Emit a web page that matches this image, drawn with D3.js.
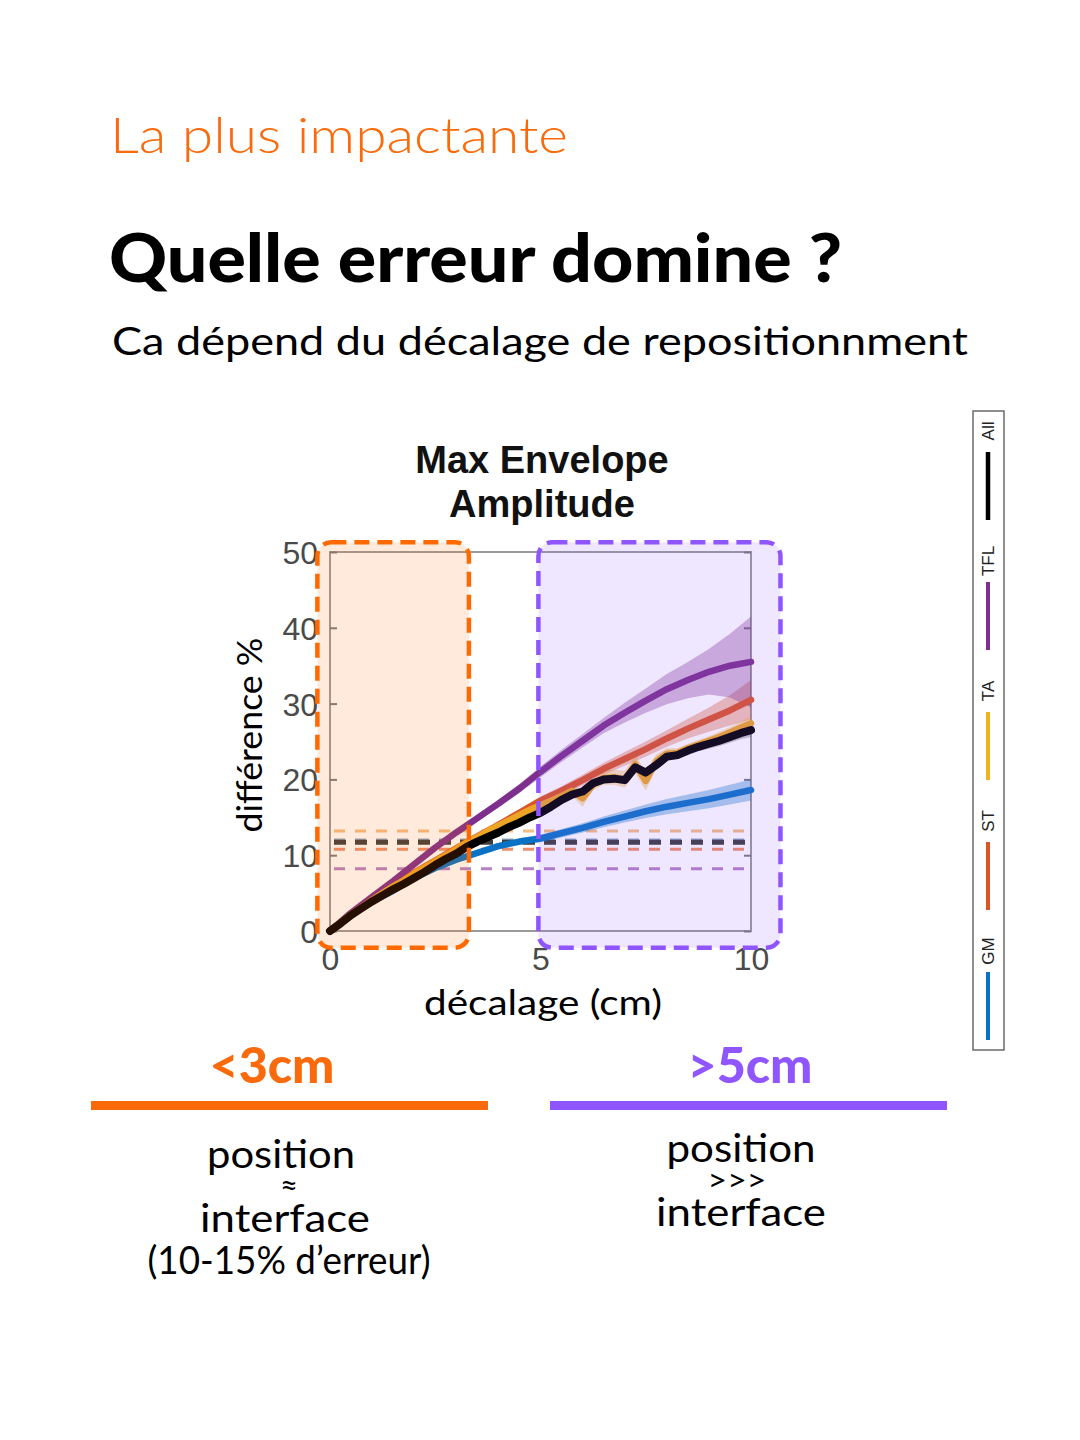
<!DOCTYPE html>
<html>
<head>
<meta charset="utf-8">
<script src="https://cdn.jsdelivr.net/npm/d3@7"></script>
<style>
  html, body { margin: 0; padding: 0; background: #fff; }
  svg { display: block; }
</style>
</head>
<body>
<div id="graphic"></div>
<script>
const width = 1080;
const height = 1440;

// x values (cm)
const decalage = [0,0.5,1,1.5,2,2.5,3,3.5,4,4.5,5,5.5,6,6.5,7,7.5,8,8.5,9,9.5,10];
const decalageFin = [0,0.25,0.5,0.75,1,1.25,1.5,1.75,2,2.25,2.5,2.75,3,3.25,3.5,3.75,4,4.25,4.5,4.75,
  5,5.25,5.5,5.75,6,6.25,6.5,6.75,7,7.25,7.5,7.75,8,8.25,8.5,8.75,9,9.25,9.5,9.75,10];

// mean difference % per muscle
const gmValues  = [0,2.1,3.9,5.3,7.0,8.3,9.4,10.3,11.2,11.8,12.2,12.9,13.6,14.4,15.1,15.8,16.4,16.9,17.4,18.0,18.6];
const stValues  = [0,2.2,4.2,6.0,7.7,9.3,10.9,12.5,14.0,15.6,17.2,18.5,19.9,21.4,22.7,24.0,25.4,26.7,27.9,29.1,30.5];
const tflValues = [0,2.4,4.5,6.6,8.8,11.0,13.0,14.9,16.8,18.8,21.0,23.1,25.1,27.1,28.8,30.4,31.9,33.1,34.2,35.0,35.5];
const taValues  = [0,1.1,2.2,3.1,4.1,5.0,5.9,6.7,7.6,8.4,9.2,10.0,10.8,11.7,12.4,13.2,13.9,14.6,15.3,16.0,
  16.6,17.2,17.8,18.5,17.5,19.3,20.2,20.3,20.0,22.0,19.8,22.4,23.4,23.5,24.1,24.6,25.1,25.6,26.2,26.8,27.4];
const allValues = [0,1.0,2.1,3.0,3.9,4.7,5.5,6.2,7.0,7.8,8.7,9.5,10.2,11.1,11.8,12.4,13.0,13.7,14.3,15.0,
  15.6,16.4,17.3,18.0,18.4,19.5,20.0,20.1,19.9,21.6,20.9,21.9,23.0,23.2,23.8,24.3,24.7,25.1,25.6,26.1,26.5];

// half-width of the shaded bands
const gmSpread  = [0,0.1,0.15,0.2,0.25,0.3,0.3,0.35,0.4,0.45,0.5,0.55,0.6,0.7,0.8,0.9,1.0,1.1,1.2,1.3,1.4];
const stSpread  = [0,0.1,0.15,0.2,0.25,0.3,0.35,0.4,0.45,0.5,0.55,0.6,0.7,0.8,0.9,1.0,1.1,1.3,1.6,2.0,2.6];
const tflSpread = [0,0.1,0.2,0.25,0.3,0.35,0.4,0.45,0.5,0.6,0.7,0.8,0.9,1.0,1.3,1.6,2.0,2.4,3.0,4.2,6.0];
const taSpread  = [0,0.1,0.1,0.15,0.15,0.2,0.2,0.2,0.2,0.25,0.25,0.25,0.3,0.3,0.3,0.3,0.35,0.35,0.4,0.4,
  0.45,0.5,0.6,0.7,1.1,0.7,0.9,1.0,1.1,1.2,1.3,0.9,0.7,0.6,0.6,0.6,0.6,0.7,0.7,0.8,0.9];
const allSpread = [0,0.05,0.05,0.1,0.1,0.1,0.1,0.15,0.15,0.15,0.15,0.2,0.2,0.2,0.2,0.2,0.25,0.25,0.25,0.3,
  0.3,0.3,0.35,0.35,0.4,0.4,0.4,0.45,0.45,0.5,0.5,0.5,0.55,0.55,0.6,0.6,0.65,0.7,0.75,0.8,0.9];

// interface error (dashed references)
const interfaceLevels = [
  {name: 'TFL', value: 8.2},
  {name: 'ST',  value: 10.8},
  {name: 'TA',  value: 13.2},
  {name: 'GM',  value: 12.0},
  {name: 'All', value: 11.7}
];

const muscles = ['GM', 'ST', 'TA', 'TFL', 'All'];
const colors = {GM: '#0A72C4', ST: '#DA5428', TA: '#EDA526', TFL: '#7E2F8E', All: '#000000'};
const dashColors = {GM: '#8FA8C6', ST: '#EE8E6A', TA: '#F4BE84', TFL: '#B482C4', All: '#3d3d3d'};

const yTicks = [0, 10, 20, 30, 40, 50];
const xTicks = [0, 5, 10];

// highlighted zones (cm)
const zones = [
  {from: -0.3, to: 3.3, color: '#FF6A00'},
  {from: 4.95, to: 10.7, color: '#8F55FF'}
];

const series = [
  {name: 'GM',  x: decalage,    y: gmValues,  s: gmSpread},
  {name: 'ST',  x: decalage,    y: stValues,  s: stSpread},
  {name: 'TFL', x: decalage,    y: tflValues, s: tflSpread},
  {name: 'TA',  x: decalageFin, y: taValues,  s: taSpread},
  {name: 'All', x: decalageFin, y: allValues, s: allSpread}
];

const svg = d3.select('#graphic').append('svg')
  .attr('width', width)
  .attr('height', height);

svg.append('rect').attr('width', width).attr('height', height).attr('fill', '#fff');

// header
svg.append('text')
  .attr('x', 110).attr('y', 153)
  .attr('font-family', 'Lato').attr('font-weight', 300)
  .attr('font-size', 50).attr('fill', '#FA6A0A')
  .attr('textLength', 458).attr('lengthAdjust', 'spacingAndGlyphs')
  .text('La plus impactante');

svg.append('text')
  .attr('x', 109).attr('y', 282)
  .attr('font-family', 'Lato').attr('font-weight', 900)
  .attr('font-size', 66).attr('fill', '#000')
  .attr('textLength', 733).attr('lengthAdjust', 'spacingAndGlyphs')
  .text('Quelle erreur domine ?');

svg.append('text')
  .attr('x', 112).attr('y', 355)
  .attr('font-family', 'Lato').attr('font-weight', 400)
  .attr('font-size', 38).attr('fill', '#000')
  .attr('textLength', 856).attr('lengthAdjust', 'spacingAndGlyphs')
  .text('Ca dépend du décalage de repositionnment');

// scales
const scaleX = d3.scaleLinear().domain([0, 10]).range([330, 751]);
const scaleY = d3.scaleLinear().domain([0, 50]).range([931, 552]);

const plot = svg.append('g');

// box frame
plot.append('rect')
  .attr('x', scaleX(0)).attr('y', scaleY(50))
  .attr('width', scaleX(10) - scaleX(0)).attr('height', scaleY(0) - scaleY(50))
  .attr('fill', 'none').attr('stroke', '#9a9a9a').attr('stroke-width', 2);

// axes (ticks inward, MATLAB-like)
const axisLeft = d3.axisLeft(scaleY).tickValues(yTicks).tickSize(-7).tickPadding(12);
const gy = plot.append('g').attr('transform', `translate(${scaleX(0)},0)`).call(axisLeft);
const axisRight = d3.axisRight(scaleY).tickValues(yTicks).tickSize(-7).tickFormat('');
const gyr = plot.append('g').attr('transform', `translate(${scaleX(10)},0)`).call(axisRight);
const axisBottom = d3.axisBottom(scaleX).tickValues(xTicks).tickSize(0).tickPadding(16);
const gx = plot.append('g').attr('transform', `translate(0,${scaleY(0)})`).call(axisBottom);

[gy, gyr, gx].forEach(g => {
  g.select('.domain').remove();
  g.selectAll('line').attr('stroke', '#7a7a7a').attr('stroke-width', 2);
  g.selectAll('text')
    .attr('font-family', 'Liberation Sans, Arial, sans-serif')
    .attr('font-size', 32).attr('fill', '#4a4a4a');
});
gy.selectAll('text').attr('dy', '0.36em');
gx.selectAll('text').attr('dy', '0.72em');

// dashed interface levels
plot.selectAll('line.level')
  .data(interfaceLevels)
  .enter().append('line')
  .attr('class', 'level')
  .attr('x1', scaleX(0) + 4).attr('x2', scaleX(10) - 2)
  .attr('y1', d => scaleY(d.value)).attr('y2', d => scaleY(d.value))
  .attr('stroke', d => dashColors[d.name])
  .attr('stroke-width', d => d.name === 'All' ? 5 : 3)
  .attr('stroke-dasharray', d => d.name === 'All' ? '12,9' : '11,10');

// shaded bands
const band = d3.area()
  .x(d => scaleX(d.x))
  .y0(d => scaleY(d.y - d.s))
  .y1(d => scaleY(d.y + d.s));

const line = d3.line()
  .x(d => scaleX(d.x))
  .y(d => scaleY(d.y));

function points(s) {
  return s.x.map((x, i) => ({x: x, y: s.y[i], s: s.s[i]}));
}

plot.selectAll('path.band')
  .data(series)
  .enter().append('path')
  .attr('class', 'band')
  .attr('d', s => band(points(s)))
  .attr('fill', s => s.name === 'All' ? '#555' : colors[s.name])
  .attr('opacity', 0.35);

plot.selectAll('path.mean')
  .data(series)
  .enter().append('path')
  .attr('class', 'mean')
  .attr('d', s => line(points(s)))
  .attr('fill', 'none')
  .attr('stroke', s => colors[s.name])
  .attr('stroke-width', s => s.name === 'All' ? 8 : 6.5)
  .attr('stroke-linejoin', 'round')
  .attr('stroke-linecap', 'round');

// title of the plot
const plotTitle = ['Max Envelope', 'Amplitude'];
svg.selectAll('text.ptitle')
  .data(plotTitle)
  .enter().append('text')
  .attr('class', 'ptitle')
  .attr('x', 542)
  .attr('y', (d, i) => 473 + i * 44)
  .attr('text-anchor', 'middle')
  .attr('font-family', 'Liberation Sans, Arial, sans-serif')
  .attr('font-weight', 700).attr('font-size', 38).attr('fill', '#111')
  .text(d => d);

// axis labels
svg.append('text')
  .attr('transform', 'translate(262,735) rotate(-90)')
  .attr('text-anchor', 'middle')
  .attr('font-family', 'Lato').attr('font-size', 34).attr('fill', '#000')
  .attr('textLength', 195).attr('lengthAdjust', 'spacingAndGlyphs')
  .text('différence %');

svg.append('text')
  .attr('x', 543).attr('y', 1015)
  .attr('text-anchor', 'middle')
  .attr('font-family', 'Lato').attr('font-size', 35).attr('fill', '#000')
  .attr('textLength', 238).attr('lengthAdjust', 'spacingAndGlyphs')
  .text('décalage (cm)');

// highlighted zones, drawn over the plot
svg.selectAll('rect.zone')
  .data(zones)
  .enter().append('rect')
  .attr('class', 'zone')
  .attr('x', d => scaleX(d.from))
  .attr('y', scaleY(51.3))
  .attr('width', d => scaleX(d.to) - scaleX(d.from))
  .attr('height', scaleY(-2.2) - scaleY(51.3))
  .attr('rx', 14).attr('ry', 14)
  .attr('fill', d => d.color).attr('fill-opacity', 0.14)
  .attr('stroke', d => d.color).attr('stroke-width', 4.5)
  .attr('stroke-dasharray', '15,8');

// legend (vertical)
const legend = svg.append('g');
legend.append('rect')
  .attr('x', 973).attr('y', 411).attr('width', 31).attr('height', 639)
  .attr('fill', '#fff').attr('stroke', '#6b6b6b').attr('stroke-width', 1.5);

const legendY = d3.scalePoint().domain(muscles).range([1008, 488]);

const entry = legend.selectAll('g.entry')
  .data(muscles)
  .enter().append('g')
  .attr('class', 'entry')
  .attr('transform', d => `translate(988,${legendY(d)})`);

entry.append('line')
  .attr('x1', 0).attr('x2', 0)
  .attr('y1', 32).attr('y2', -36)
  .attr('stroke', d => d === 'TA' ? '#F2B21F' : colors[d])
  .attr('stroke-width', d => d === 'All' ? 4.5 : 4);

entry.append('text')
  .attr('transform', 'translate(6,-57) rotate(-90)')
  .attr('text-anchor', 'middle')
  .attr('font-family', 'Liberation Sans, Arial, sans-serif')
  .attr('font-size', 17).attr('fill', '#222')
  .text(d => d);

// bottom comparison
const panels = [
  {label: '<3cm', color: '#FA6A0A', labelX: 272, barFrom: 91, barTo: 488,
   lines: ['position', '≈', 'interface', '(10-15% d’erreur)'],
   xs: [281, 289, 285, 289], ys: [1168, 1196, 1232, 1274], ws: [148, 18, 170, 283]},
  {label: '>5cm', color: '#8F55FF', labelX: 750, barFrom: 550, barTo: 947,
   lines: ['position', '>>>', 'interface'],
   xs: [741, 737, 741], ys: [1162, 1191, 1226], ws: [149, 59, 170]}
];

panels.forEach(p => {
  svg.append('text')
    .attr('x', p.labelX).attr('y', 1083)
    .attr('text-anchor', 'middle')
    .attr('font-family', 'Lato').attr('font-weight', 900)
    .attr('font-size', 50).attr('fill', p.color)
    .attr('textLength', 125).attr('lengthAdjust', 'spacingAndGlyphs')
    .text(p.label);
  svg.append('rect')
    .attr('x', p.barFrom).attr('y', 1101)
    .attr('width', p.barTo - p.barFrom).attr('height', 9)
    .attr('fill', p.color);
  svg.selectAll(null)
    .data(p.lines)
    .enter().append('text')
    .attr('x', (d, i) => p.xs[i])
    .attr('y', (d, i) => p.ys[i])
    .attr('text-anchor', 'middle')
    .attr('font-family', 'Lato').attr('font-weight', 400)
    .attr('font-size', d => d.length < 4 ? 30 : 39).attr('fill', '#000')
    .attr('textLength', (d, i) => p.ws[i]).attr('lengthAdjust', 'spacingAndGlyphs')
    .text(d => d);
});
</script>
</body>
</html>
